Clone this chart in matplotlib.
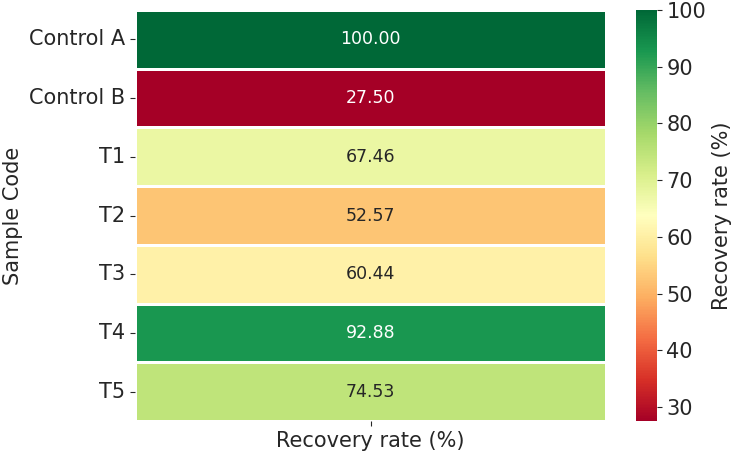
import matplotlib
matplotlib.use("Agg")
import matplotlib.pyplot as plt
import seaborn as sns
import pandas as pd
import numpy as np

samples = ["Control A", "Control B", "T1", "T2", "T3", "T4", "T5"]
recovery = [100.00, 27.50, 67.46, 52.57, 60.44, 92.88, 74.53]

df = pd.DataFrame({"Recovery rate (%)": recovery}, index=samples)
df.index.name = "Sample Code"

dark = "#262626"
plt.rcParams.update({"text.color": dark, "axes.labelcolor": dark,
                     "xtick.color": dark, "ytick.color": dark})

fig = plt.figure(figsize=(7.33, 4.51), dpi=100)
ax = fig.add_axes([0.184, 0.066, 0.643, 0.912])
cax = fig.add_axes([0.868, 0.066, 0.028, 0.912])
sns.heatmap(df, ax=ax, cbar_ax=cax, cmap="RdYlGn", annot=True, fmt=".2f",
            linewidths=1, linecolor="white",
            annot_kws={"fontsize": 12.5},
            cbar_kws={"label": "Recovery rate (%)"})
ax.tick_params(axis="both", labelsize=15)
ax.set_yticklabels(samples, rotation=0, fontsize=15)
ax.set_ylabel("Sample Code", fontsize=15)
ax.set_xlabel("")
ax.set_xticklabels(["Recovery rate (%)"], fontsize=15)
cax.tick_params(labelsize=15)
cax.set_ylabel("Recovery rate (%)", fontsize=15)
fig.savefig("out.png", dpi=100)
